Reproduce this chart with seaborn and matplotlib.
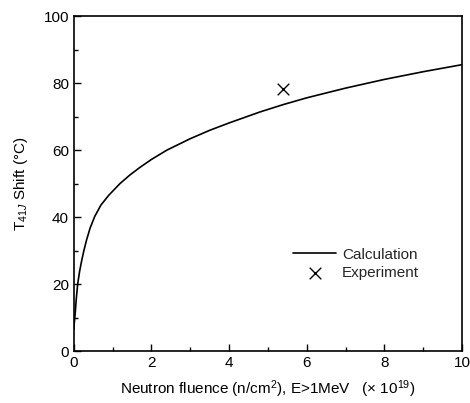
import matplotlib
matplotlib.use("Agg")
import pandas as pd
import seaborn as sns
from matplotlib import pyplot as plt
from matplotlib.ticker import MultipleLocator

# Calculated curve
calc_x = [0.0, 0.01, 0.035, 0.06, 0.1, 0.15, 0.2, 0.26, 0.33, 0.42, 0.54, 0.7, 0.9,
          1.19, 1.45, 1.7, 2.0, 2.4, 3.0, 3.5, 4.0, 4.8, 5.4, 6.0, 7.0, 8.0, 9.0, 10.0]
calc_y = [6.5, 8.0, 11.0, 15.0, 20.0, 23.8, 26.8, 30.0, 33.2, 36.7, 40.2, 43.6, 46.5,
          50.0, 52.6, 54.8, 57.2, 60.0, 63.4, 65.9, 68.1, 71.4, 73.6, 75.6, 78.5,
          81.1, 83.4, 85.5]

# Experimental point
exp_x = [5.4]
exp_y = [78.2]

sns.set_theme(style="ticks")
plt.rcParams["font.family"] = ["Liberation Sans", "DejaVu Sans"]
plt.rcParams["mathtext.fontset"] = "custom"
plt.rcParams["mathtext.rm"] = "Liberation Sans"
plt.rcParams["mathtext.it"] = "Liberation Sans:italic"

calc = pd.DataFrame({"x": calc_x, "y": calc_y})
expt = pd.DataFrame({"x": exp_x, "y": exp_y})

fig = plt.figure(figsize=(4.7, 4.03), dpi=100)
ax = fig.add_axes([0.157, 0.129, 0.826, 0.831])

sns.lineplot(data=calc, x="x", y="y", color="black", linewidth=1.2, ax=ax,
             label="Calculation")
sns.scatterplot(data=expt, x="x", y="y", marker="x", color="black", s=70,
                linewidth=1.0, ax=ax, label="Experiment")

ax.set_xlim(0, 10)
ax.set_ylim(0, 100)
ax.xaxis.set_major_locator(MultipleLocator(2))
ax.xaxis.set_minor_locator(MultipleLocator(1))
ax.yaxis.set_major_locator(MultipleLocator(20))
ax.yaxis.set_minor_locator(MultipleLocator(10))
ax.tick_params(which="major", direction="in", length=5, width=1, labelsize=11,
               color="black", labelcolor="black")
ax.tick_params(which="minor", direction="in", length=3, width=1, color="black")
for s in ax.spines.values():
    s.set_color("black")
    s.set_linewidth(1.2)

ax.set_xlabel(r"Neutron fluence (n/cm$^2$), E>1MeV   ($\times$ 10$^{19}$)",
              fontsize=11, color="black", labelpad=6)
ax.set_ylabel(r"T$_{41J}$ Shift (°C)", fontsize=11, color="black", labelpad=10)

ax.legend(loc="center left", bbox_to_anchor=(0.53, 0.26), frameon=False, fontsize=11,
          handlelength=2.8, handletextpad=0.4, labelspacing=0.3)

fig.savefig("out.png", dpi=100)
